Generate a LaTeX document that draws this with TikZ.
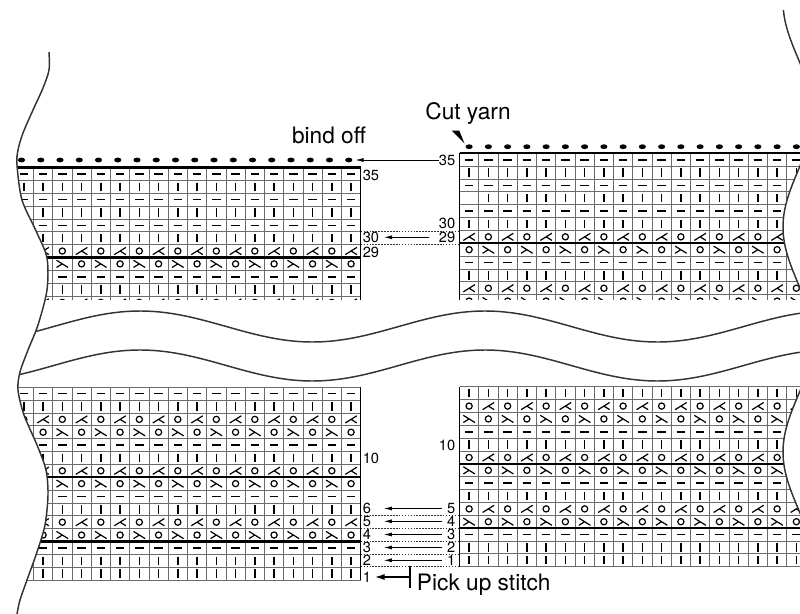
\documentclass[tikz,border=0pt]{standalone}
\usepackage{fontspec}
\setmainfont{TeX Gyre Heros}
\usetikzlibrary{arrows.meta}

\newcommand{\cw}{19.25}
\newcommand{\rh}{12.85}

% stitch symbols: 1 knit, 2 purl, 3 yarn over, 4 and 5 decreases
\newcommand{\stsym}[3]{%
	\ifcase#1\relax
	\or \draw[stk] (#2,#3-4.2) -- (#2,#3+4.2);
	\or \draw[stk] (#2-4.2,#3) -- (#2+4.2,#3);
	\or \draw[yoc] (#2,#3) circle (3.1);
	\or \draw[decln] (#2-5.8,#3-3.6) -- (#2+5.8,#3+3.6) (#2,#3) -- (#2-5.8,#3+3.6);
	\or \draw[decln] (#2+5.8,#3-3.6) -- (#2-5.8,#3+3.6) (#2,#3) -- (#2+5.8,#3+3.6);
	\fi}

% #1 edge x, #2 side, #3 y of row 0, #4 first row, #5 last row, #6 phase, #7 row with empty first stitch
\newcommand{\chart}[7]{%
	\foreach \r in {#4,...,#5}{%
		\pgfmathsetmacro{\yc}{#3-(\r-0.5)*\rh}%
		\pgfmathtruncatemacro{\rt}{\r<3 ? 1 : (\r==3 ? 2 : (\r>29 ? 2-mod(\r+1,2) : (mod(\r,4)==0 ? 6 : (mod(\r,4)==1 ? 7 : (mod(\r,4)==2 ? 1 : 2)))))}%
		\foreach \c in {1,...,19}{%
			\pgfmathsetmacro{\xc}{#1+(#2)*(\c-0.5)*\cw}%
			\pgfmathtruncatemacro{\s}{\rt==6 ? (mod(\c+#6,2)==1 ? 3 : 4) : (\rt==7 ? (mod(\c+#6,2)==1 ? 5 : 3) : ((\r==#7 && \c==1) ? 0 : \rt))}%
			\stsym{\s}{\xc}{\yc}%
		}%
	}%
	\draw[gridln] (#1,{#3-(#4-1)*\rh}) -- ++({(#2)*19*\cw},0);
	\foreach \k in {#4,...,#5} \draw[gridln] (#1,#3-\k*\rh) -- ++({(#2)*19*\cw},0);
	\foreach \c in {1,...,19} \draw[gridln] ({#1+(#2)*\c*\cw},{#3-(#4-1)*\rh}) -- ({#1+(#2)*\c*\cw},{#3-#5*\rh});
	\draw[rimln] (#1,{#3-(#4-1)*\rh}) -- (#1,#3-#5*\rh);
	\foreach \k in {3,8,28,35}{\ifnum\k<#4 \else\ifnum\k>#5 \else
		\draw[heavyln] (#1,#3-\k*\rh) -- ++({(#2)*19*\cw},0);\fi\fi}%
}

\begin{document}
\begin{tikzpicture}[x=0.75pt, y=-0.75pt,
	stk/.style={line width=1.2pt},
	yoc/.style={line width=0.9pt},
	decln/.style={line width=0.9pt},
	gridln/.style={black!58, line width=0.6pt},
	rimln/.style={line width=0.8pt},
	heavyln/.style={line width=1.6pt},
	waveln/.style={black!80, line width=1.1pt},
	dashln/.style={black!80, line width=0.5pt, dash pattern=on 1.2pt off 1pt},
	numlab/.style={font=\fontsize{11}{13}\selectfont, inner sep=0pt},
	biglab/.style={font=\fontsize{17}{20}\selectfont, inner sep=0pt},
	thinarr/.style={-{Latex[length=6pt,width=3pt]}, line width=0.6pt},
	pickarr/.style={-{Latex[length=7.5pt,width=4.5pt]}, line width=1.2pt}]
\useasboundingbox (0,0) rectangle (800,614);
\clip (0,0) rectangle (800,614);

% left pieces
\begin{scope}
	\clip plot[smooth] coordinates {(49,-10) (49,52) (49,70) (43,88) (33,110) (23,133) (18,150) (17,165) (22,200) (37,233) (47,258) (47,290) (38,325) (28,350) (20,372) (18,390) (24,415) (37,445) (46,470) (48,495) (45,525) (37,552) (27,580) (20,600) (17,614) (16,630)} -- (420,630) -- (420,-10) -- cycle;
	\begin{scope}
		\clip (0,0) rectangle (420,299.5);
		\chart{360.7}{-1}{617.25}{23}{35}{0}{0}
		\foreach \c in {1,...,18} \fill ({360.7-(\c-0.5)*\cw-2.3},160) ellipse (3.6 and 2.4);
	\end{scope}
	\chart{360.7}{-1}{580}{1}{15}{0}{0}
\end{scope}

% right pieces
\begin{scope}
	\clip plot[variable=\t, domain=-10:630, samples=90, smooth] ({798-15*cos(1.6*(\t-227))},\t) -- (440,630) -- (440,-10) -- cycle;
	\begin{scope}
		\clip (0,0) rectangle (820,299.5);
		\chart{459.5}{1}{603.05}{23}{35}{0}{32}
		\foreach \c in {1,...,18} \fill ({459.5+(\c-0.5)*\cw},146.7) ellipse (3.6 and 2.4);
	\end{scope}
	\chart{459.5}{1}{566.7}{1}{14}{1}{0}
\end{scope}

% cut edges
\draw[waveln] plot[smooth] coordinates {(49,52) (49,70) (43,88) (33,110) (23,133) (18,150) (17,165) (22,200) (37,233) (47,258) (47,290) (38,325) (28,350) (20,372) (18,390) (24,415) (37,445) (46,470) (48,495) (45,525) (37,552) (27,580) (20,600) (17,614)};
\draw[waveln] plot[variable=\t, domain=10:620, samples=90, smooth] ({798-15*cos(1.6*(\t-227))},\t);
\draw[waveln] plot[variable=\t, domain=36:805, samples=80, smooth] (\t,{326.5-15.5*cos(1.0435*(\t-140))});
\draw[waveln] plot[variable=\t, domain=19.5:805, samples=80, smooth] (\t,{365.5-15.5*cos(1.0435*(\t-140))});

% dashed rows between the pieces
\foreach \y in {231.75,244.6,515.3,528.15,541,553.85,566.7} \draw[dashln] (360.7,\y) -- (459.5,\y);

% row numbers
\node[numlab, anchor=west] (ul35) at (362.5,175.5) {35};
\node[numlab, anchor=west] (ul30) at (362.5,237.7) {30};
\node[numlab, anchor=west] (ul29) at (362.5,252.5) {29};
\node[numlab, anchor=east] (ur35) at (455.5,160) {35};
\node[numlab, anchor=east] (ur30) at (455.5,223.3) {30};
\node[numlab, anchor=east] (ur29) at (455.5,237.3) {29};
\node[numlab, anchor=west] (bl10) at (362.5,458.3) {10};
\foreach \n/\y in {6/508,5/521.3,4/534.3,3/547.3,2/560.5,1/577}
	\node[numlab, anchor=west] (bl\n) at (362.5,\y) {\n};
\node[numlab, anchor=east] (br10) at (455.5,445) {10};
\foreach \n/\y in {5/508.5,4/521.3,3/534.5,2/547.5,1/560.3}
	\node[numlab, anchor=east] (br\n) at (455.5,\y) {\n};

% texts
\node[biglab, anchor=base] (bindoff) at (329,143.3) {bind off};
\node[biglab, anchor=base] (cutyarn) at (468,119.3) {Cut yarn};
\node[biglab, anchor=base west] (pickup) at (416.7,590) {Pick up stitch};
\fill (451.7,130.7) -- (459.3,130.7) -- (464.5,143.5) -- cycle;

% arrows
\coordinate (lastdot) at (355.5,160);
\draw[thinarr] (ur35) -- (lastdot);
\draw[thinarr, shorten <=7pt, shorten >=3.5pt] (ur29.west) -- (ur29.west -| ul30.east);
\foreach \a/\b in {br1/bl2,br2/bl3,br3/bl4,br4/bl5,br5/bl6}
	\draw[thinarr, shorten <=3.3pt, shorten >=9.5pt] (\a.west) -- (\a.west -| \b.east);
\coordinate (pickbar) at (410,577);
\draw[line width=1.1pt] (pickbar) ++(0,-11) -- ++(0,22.3);
\draw[pickarr, shorten >=2.5pt] (pickbar) -- (pickbar -| bl1.east);
\end{tikzpicture}
\end{document}
